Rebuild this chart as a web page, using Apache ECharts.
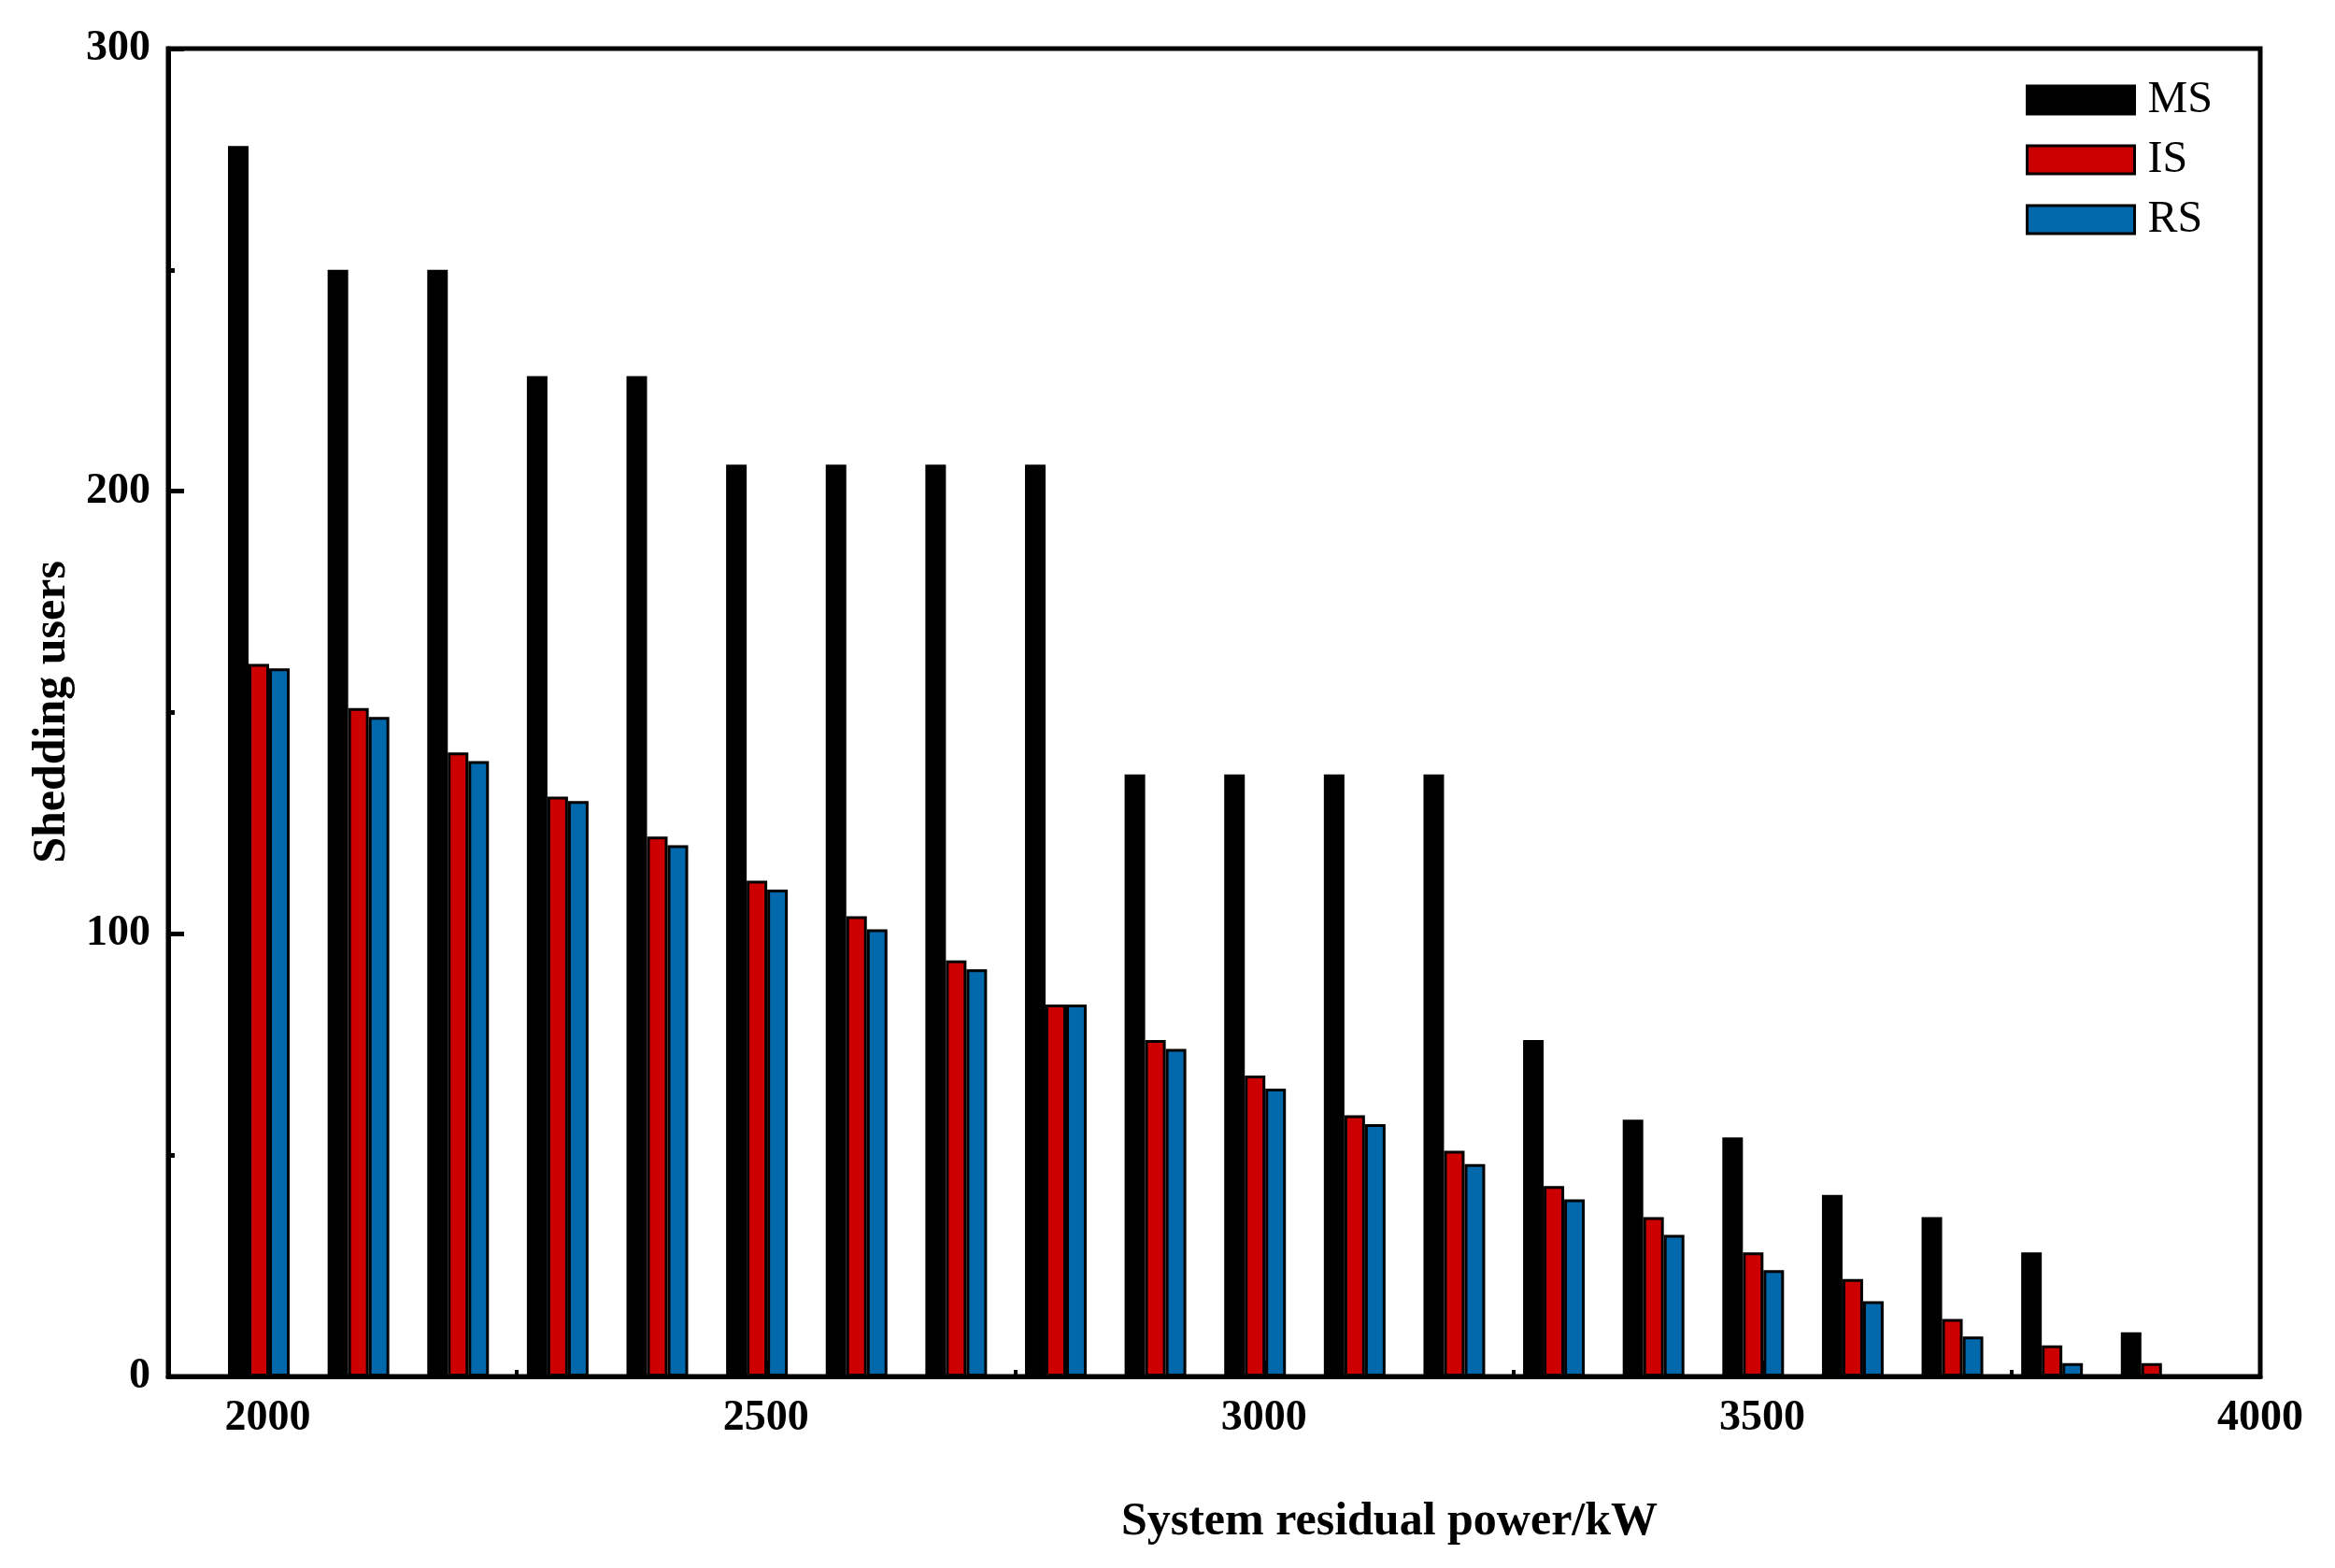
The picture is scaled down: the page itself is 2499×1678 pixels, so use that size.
<!DOCTYPE html>
<html>
<head>
<meta charset="utf-8">
<script src="https://cdn.jsdelivr.net/npm/echarts@6/dist/echarts.min.js"></script>
<style>
html,body{margin:0;padding:0;background:#fff;}
#chart{width:2499px;height:1678px;}
</style>
</head>
<body>
<div id="chart"></div>
<script>
const powers = [2000,2100,2200,2300,2400,2500,2600,2700,2800,2900,3000,3100,3200,3300,3400,3500,3600,3700,3800,3900];
const msValues = [278,250,250,226,226,206,206,206,206,136,136,136,136,76,58,54,41,36,28,10];
const isValues = [161,151,141,131,122,112,104,94,84,76,68,59,51,43,36,28,22,13,7,3];
const rsValues = [160,149,139,130,120,110,101,92,84,74,65,57,48,40,32,24,17,9,3,0];
const xMajorTicks = [2000,2500,3000,3500,4000];
const xMinorTicks = [2250,2750,3250,3750];
const seriesNames = ['MS','IS','RS'];
const xTitle = 'System residual power/kW';
const yTitle = 'Shedding users';

const FONT = 'Liberation Serif, Times New Roman, serif';
const colors = {MS:'#000000', IS:'#CC0000', RS:'#0068AB'};

const chart = echarts.init(document.getElementById('chart'), null, {renderer:'canvas'});

function pairs(vals){ return powers.map((p,i)=>[p, vals[i]]); }

function barSeries(name, vals){
  return {
    name: name,
    type: 'bar',
    xAxisIndex: 2,
    yAxisIndex: 0,
    data: pairs(vals),
    barWidth: 22,
    barGap: '0%',
    itemStyle: {color: colors[name], borderColor:'#000', borderWidth:3},
    emphasis: {disabled:true},
    z: 2
  };
}

const option = {
  animation: false,
  backgroundColor: '#fff',
  grid: {left:180, right:80, top:52, bottom:205, show:true, borderColor:'#000', borderWidth:5, backgroundColor:'transparent'},
  legend: {
    orient: 'vertical',
    left: 2168,
    top: 83,
    padding: 0,
    itemWidth: 115,
    itemHeight: 30,
    itemGap: 16,
    icon: 'rect',
    textStyle: {fontFamily: FONT, fontSize: 48, color:'#000', padding:[0,0,0,9]},
    data: seriesNames.map(n => ({name:n, itemStyle:{color:colors[n], borderColor:'#000', borderWidth:3}}))
  },
  xAxis: [
    {
      type: 'value', min: 1900, max: 4000, position: 'bottom',
      axisLine: {show:true, onZero:false, lineStyle:{color:'#000', width:5}},
      axisTick: {show:true, inside:true, length:17, lineStyle:{color:'#000', width:4}, customValues: xMajorTicks},
      axisLabel: {show:true, customValues: xMajorTicks, formatter: v => String(v), fontFamily:FONT, fontWeight:'bold', fontSize:46, color:'#000', margin:22},
      splitLine: {show:false}
    },
    {
      type: 'value', min: 1900, max: 4000, position: 'bottom',
      axisLine: {show:false},
      axisTick: {show:true, inside:true, length:7, lineStyle:{color:'#000', width:4}, customValues: xMinorTicks},
      axisLabel: {show:false},
      splitLine: {show:false}
    },
    {
      type: 'value', min: 1909, max: 4009, position: 'bottom', show: false,
      axisLine: {show:false}, axisTick: {show:false}, axisLabel: {show:false}, splitLine: {show:false}
    }
  ],
  yAxis: {
    type: 'value', min: 0, max: 300, interval: 100,
    axisLine: {show:true, lineStyle:{color:'#000', width:5}},
    axisTick: {show:true, inside:true, length:17, lineStyle:{color:'#000', width:5}},
    minorTick: {show:true, splitNumber:2, length:7, lineStyle:{color:'#000', width:5}},
    axisLabel: {fontFamily:FONT, fontWeight:'bold', fontSize:46, color:'#000', margin:19},
    splitLine: {show:false},
    minorSplitLine: {show:false}
  },
  graphic: [
    {type:'text', x:1487, y:1629, style:{text:xTitle, font:'bold 50px ' + FONT, fill:'#000', align:'center', verticalAlign:'middle'}},
    {type:'text', x:56, y:762, rotation:Math.PI/2, style:{text:yTitle, font:'bold 50px ' + FONT, fill:'#000', align:'center', verticalAlign:'middle'}}
  ],
  series: [barSeries('MS', msValues), barSeries('IS', isValues), barSeries('RS', rsValues)]
};
chart.setOption(option);
</script>
</body>
</html>
